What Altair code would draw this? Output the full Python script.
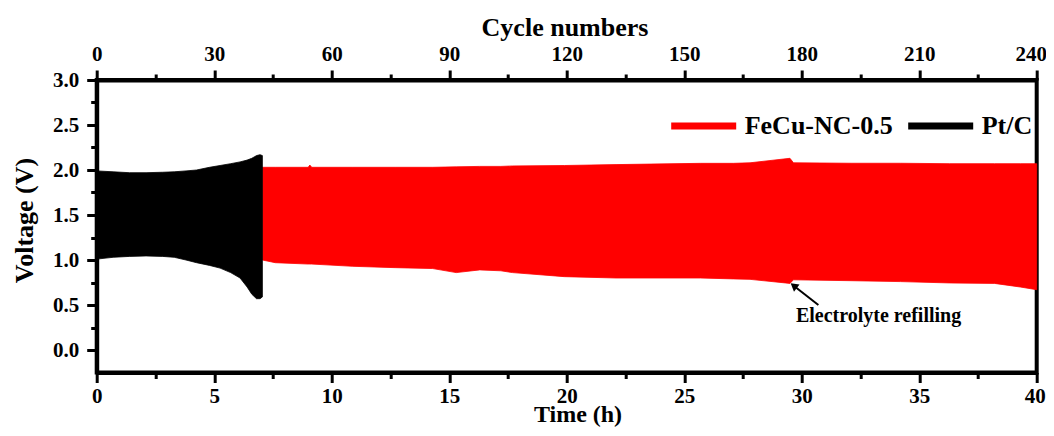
import altair as alt
import pandas as pd

# ---- data (envelopes of the dense charge/discharge bands)
ptc_time = [0, 0.7, 1.4, 2.1, 2.8, 3.3, 3.8, 4.25, 4.8, 5.25, 5.7, 6.1, 6.4, 6.6, 6.8, 6.95, 7.05]
ptc_high = [1.99, 1.98, 1.97, 1.97, 1.975, 1.98, 1.99, 2.0, 2.03, 2.05, 2.07, 2.09, 2.11, 2.13, 2.16, 2.17, 2.16]
ptc_low = [1.01, 1.03, 1.04, 1.045, 1.04, 1.03, 1.0, 0.97, 0.94, 0.91, 0.86, 0.80, 0.70, 0.62, 0.57, 0.57, 0.59]

fecu_time = [7.05, 7.6, 9.0, 9.07, 9.15, 10.9, 12.7, 14.3, 15.3, 16.3, 17.2, 17.7, 19.9, 22.1,
             25.7, 27.1, 27.8, 29.5, 29.65, 32.1, 34.2, 36.3, 38.2, 39.3, 40.0]
fecu_high = [2.03, 2.03, 2.03, 2.055, 2.03, 2.03, 2.03, 2.03, 2.035, 2.04, 2.04, 2.045, 2.05, 2.06,
             2.074, 2.074, 2.08, 2.13, 2.08, 2.075, 2.075, 2.07, 2.07, 2.07, 2.07]
fecu_low = [1.0, 0.97, 0.955, 0.955, 0.955, 0.93, 0.915, 0.905, 0.86, 0.89, 0.88, 0.86, 0.815, 0.80,
            0.80, 0.79, 0.785, 0.74, 0.78, 0.77, 0.76, 0.745, 0.74, 0.70, 0.67]

series_names = ["FeCu-NC-0.5", "Pt/C"]
series_colors = ["#ff0000", "#000000"]

time_ticks = [0, 2.5, 5, 7.5, 10, 12.5, 15, 17.5, 20, 22.5, 25, 27.5, 30, 32.5, 35, 37.5, 40]
cycle_ticks = [0, 15, 30, 45, 60, 75, 90, 105, 120, 135, 150, 165, 180, 195, 210, 225, 240]
voltage_ticks = [0, 0.25, 0.5, 0.75, 1.0, 1.25, 1.5, 1.75, 2.0, 2.25, 2.5, 2.75, 3.0]

annot_label = ["Electrolyte refilling"]
annot_label_time = [33.27]
annot_label_volt = [0.314]
arrow_time = [30.71, 29.66]
arrow_volt = [0.50, 0.714]
arrow_head_time = [29.66]
arrow_head_volt = [0.714]

FONT = "Liberation Serif"

rows = []
for t, h, l in zip(fecu_time, fecu_high, fecu_low):
    rows.append({"series": series_names[0], "time": t, "high": h, "low": l})
for t, h, l in zip(ptc_time, ptc_high, ptc_low):
    rows.append({"series": series_names[1], "time": t, "high": h, "low": l})
df = pd.DataFrame(rows)

x_scale = alt.Scale(domain=[0, 40], nice=False, zero=False)
y_scale = alt.Scale(domain=[-0.25, 3.0], nice=False, zero=False)
c_scale = alt.Scale(domain=series_names, range=series_colors)

x_axis = alt.Axis(
    title="Time (h)", orient="bottom", values=time_ticks, format="d",
    labelExpr="datum.value % 5 == 0 ? datum.label : ''",
    tickSize={"condition": {"test": "datum.value % 5 == 0", "value": 10}, "value": 6},
    labelOffset={"condition": {"test": "datum.value == 40", "value": -2}, "value": 0},
    labelPadding=19.5, labelBaseline="alphabetic", labelFlush=False,
    titleX=480.8, titleY=48.5, titleBaseline="alphabetic", titleAlign="center", titleFontSize=24,
)
y_axis = alt.Axis(
    title="Voltage (V)", orient="left", values=voltage_ticks, format=".1f",
    labelExpr="abs(datum.value * 2 - round(datum.value * 2)) < 0.001 ? datum.label : ''",
    tickSize={"condition": {"test": "abs(datum.value * 2 - round(datum.value * 2)) < 0.001", "value": 10}, "value": 6},
    labelPadding=8, labelFlush=False,
    titleX=-72, titleY=140, titleBaseline="middle", titleAlign="center", titleAngle=270,
)

legend = alt.Legend(
    title=None, orient="none", legendX=571, legendY=10, direction="horizontal",
    symbolType="stroke", symbolSize=4225, symbolStrokeWidth=7,
    labelFont=FONT, labelFontSize=26, labelFontWeight="bold", labelColor="black",
    labelOffset=5, columnPadding=0, padding=0, labelLimit=400,
)

area = alt.Chart(df).mark_area(strokeWidth=0.8).encode(
    x=alt.X("time:Q", scale=x_scale, axis=x_axis, title="Time (h)"),
    y=alt.Y("high:Q", scale=y_scale, axis=y_axis, title="Voltage (V)"),
    y2="low:Q",
    fill=alt.Fill("series:N", scale=c_scale, legend=legend),
    stroke=alt.Stroke("series:N", scale=c_scale, legend=legend),
)

arrow_df = pd.DataFrame({"time": arrow_time, "high": arrow_volt})
arrow = alt.Chart(arrow_df).mark_line(color="black", strokeWidth=2).encode(
    x=alt.X("time:Q", scale=x_scale, axis=x_axis, title="Time (h)"),
    y=alt.Y("high:Q", scale=y_scale, axis=y_axis, title="Voltage (V)"),
)

head_df = pd.DataFrame({"time": arrow_head_time, "high": arrow_head_volt})
head = alt.Chart(head_df).mark_point(shape="triangle-up", filled=True, size=80, angle=308,
                                     color="black", opacity=1).encode(
    x=alt.X("time:Q", scale=x_scale, axis=x_axis, title="Time (h)"),
    y=alt.Y("high:Q", scale=y_scale, axis=y_axis, title="Voltage (V)"),
)

text_df = pd.DataFrame({"time": annot_label_time, "high": annot_label_volt, "label": annot_label})
text = alt.Chart(text_df).mark_text(font=FONT, fontSize=20, fontWeight="bold", color="black",
                                    align="center", baseline="alphabetic").encode(
    x=alt.X("time:Q", scale=x_scale, axis=x_axis, title="Time (h)"),
    y=alt.Y("high:Q", scale=y_scale, axis=y_axis, title="Voltage (V)"),
    text="label:N",
)

inner = alt.layer(area, arrow, head, text)

cycle_df = pd.DataFrame({"cycle": cycle_ticks})
top = alt.Chart(cycle_df).mark_rule(opacity=0).encode(
    x=alt.X("cycle:Q", scale=alt.Scale(domain=[0, 240], nice=False, zero=False), axis=alt.Axis(
        title="Cycle numbers", orient="top", values=cycle_ticks, format="d",
        labelExpr="datum.value % 30 == 0 ? datum.label : ''",
        tickSize={"condition": {"test": "datum.value % 30 == 0", "value": 10}, "value": 6},
        labelOffset={"condition": {"test": "datum.value == 240", "value": -6}, "value": 0},
        labelPadding=10, labelBaseline="alphabetic", labelFlush=False,
        titleX=467.8, titleY=-45, titleBaseline="alphabetic", titleAlign="center",
    )),
)

chart = alt.layer(inner, top).resolve_scale(x="independent").properties(
    width=940, height=292.5,
    autosize=alt.AutoSizeParams(type="none"),
    padding={"left": 88.7, "top": 72, "right": 9.3, "bottom": 55},
).configure(font=FONT).configure_view(
    stroke="black", strokeWidth=4,
).configure_axis(
    grid=False, domainColor="black", domainWidth=4, tickColor="black", tickWidth=3,
    labelFont=FONT, labelFontSize=21, labelFontWeight="bold", labelColor="black",
    titleFont=FONT, titleFontSize=26, titleFontWeight="bold", titleColor="black",
)

chart.save("out.html", embed_options={"renderer": "svg", "actions": False})
